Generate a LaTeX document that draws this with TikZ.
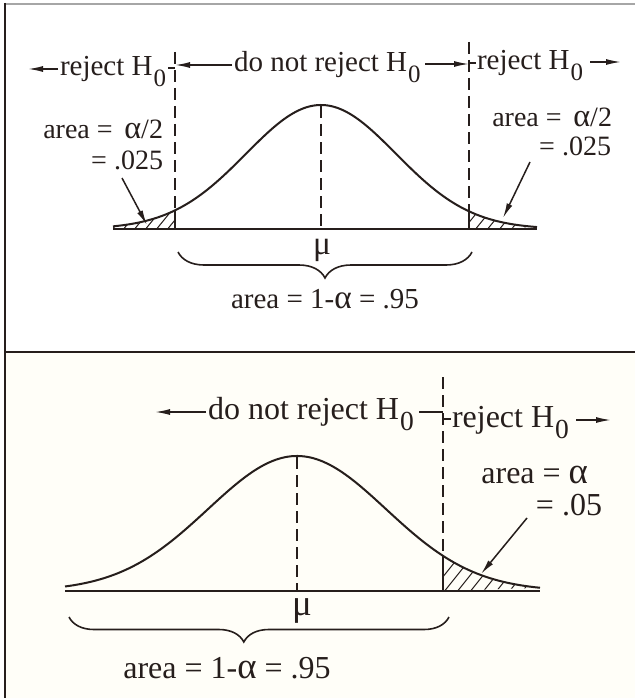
\documentclass[tikz,border=0pt]{standalone}
\usepackage{fontspec}
\usepackage{graphicx}
\setmainfont{Liberation Serif}
\usetikzlibrary{arrows.meta,decorations.pathreplacing}
\definecolor{ink}{RGB}{38,30,28}
\definecolor{cream}{RGB}{255,254,248}
\newcommand\Hz{H\kern1pt\raisebox{-0.36em}{\scalebox{0.86}{0}}}
\newcommand\alp{\scalebox{1.15}{α}}
\begin{document}
\begin{tikzpicture}[x=1pt,y=-1pt,
  every node/.style={inner sep=0pt, outer sep=0pt, text=ink},
  fa/.style={font=\fontsize{29}{32}\selectfont},
  fal/.style={font=\fontsize{28}{30}\selectfont},
  fb/.style={font=\fontsize{32}{35}\selectfont},
  curve/.style={draw=ink, line width=2pt},
  axis/.style={draw=ink, line width=2.4pt},
  guide/.style={draw=ink, line width=1.2pt, dash pattern=on 12pt off 6pt},
  hatch/.style={draw=ink, line width=1pt},
  solid edge/.style={draw=ink, line width=1.4pt},
  arr/.style={draw=ink, line width=1.5pt, -{Latex[length=15pt,width=6pt]}},
  tick/.style={draw=ink, line width=1.5pt},
  bracestyle/.style={draw=ink, line width=1.6pt, decorate},
]
\useasboundingbox (0,0) rectangle (635,698);
\fill[white] (0,0) rectangle (635,698);
\fill[cream] (6,353) rectangle (635,698);
% frame
\draw[draw=gray!70, line width=2pt] (5,4) -- (635,4);
\draw[draw=ink, line width=2pt] (5,3) -- (5,698);
\draw[draw=ink, line width=2pt] (5,352) -- (635,352);

% ================= TOP PANEL =================
% hatched tails
\begin{scope}
  \clip plot[domain=113:175, samples=40] (\x, {229-124*exp(-((\x-321)/75)*((\x-321)/75)/2)}) -- (175,229) -- (113,229) -- cycle;
  \foreach \h in {100,111,...,178} \draw[hatch] (\h,231) -- ++(22,-27);
\end{scope}
\begin{scope}
  \clip (469,229) -- plot[domain=469:537, samples=40] (\x, {229-124*exp(-((\x-321)/75)*((\x-321)/75)/2)}) -- cycle;
  \foreach \h in {462,474,...,540} \draw[hatch] (\h,231) -- ++(22,-27);
\end{scope}
% curve and axis
\draw[curve] plot[domain=113:537, samples=150, smooth] (\x, {229-124*exp(-((\x-321)/75)*((\x-321)/75)/2)});
\draw[axis] (113,229) -- (537,229);
% guides
\draw[guide] (175,52) -- (175,229);
\draw[guide] (469,42) -- (469,229);
\draw[guide] (321,106) -- (321,229);
\draw[solid edge] (175,211) -- (175,229);
\draw[solid edge] (469,211) -- (469,229);

% header
\node[fa, anchor=base west] (trl) at (60,76) {reject \Hz};
\coordinate (trlA) at (58,69); \coordinate (trlB) at (28,69);
\draw[arr] (trlA) -- (trlB);
\coordinate (trlC) at (168,68); \coordinate (trlD) at (175,68);
\draw[tick] (trlC) -- (trlD);

\node[fa, anchor=base west] (tdn) at (234,72) {do not reject \Hz};
\coordinate (tdnA) at (232,65); \coordinate (tdnB) at (175,65);
\draw[arr] (tdnA) -- (tdnB);
\coordinate (tdnC) at (425,64); \coordinate (tdnD) at (469,64);
\draw[arr] (tdnC) -- (tdnD);

\node[fa, anchor=base west] (trr) at (477,70) {reject \Hz};
\coordinate (trrC) at (469,63); \coordinate (trrD) at (476,63);
\draw[tick] (trrC) -- (trrD);
\coordinate (trrA) at (590,62); \coordinate (trrB) at (621,62);
\draw[arr] (trrA) -- (trrB);

% area labels
\node[fal, anchor=base east] (tla1) at (163,139) {area = \,\alp/2};
\node[fal, anchor=base east] (tla2) at (163,169) {= .025};
\coordinate (tlaP) at (122,178); \coordinate (tlaQ) at (147,225);
\draw[arr] (tlaP) -- (tlaQ);

\node[fal, anchor=base east] (tra1) at (612,126) {area = \,\alp/2};
\node[fal, anchor=base east] (tra2) at (611,155) {= .025};
\coordinate (traP) at (530,162); \coordinate (traQ) at (503,218);
\draw[arr] (traP) -- (traQ);

% mu, brace, bottom text
\node[fa, anchor=base] (tmu) at (322,254) {\scalebox{1.15}{μ}};
\coordinate (tbrA) at (178,252); \coordinate (tbrB) at (472,252);
\draw[bracestyle, decoration={brace, mirror, amplitude=26pt}] (tbrA) -- (tbrB);
\node[fa, anchor=base] (tarea) at (325,308) {area = 1-\alp\ = .95};

% ================= BOTTOM PANEL =================
\begin{scope}
  \clip (443,591) -- plot[domain=443:540, samples=40] (\x, {591-135*exp(-((\x-297)/89)*((\x-297)/89)/2)}) -- cycle;
  \foreach \h in {430,443,...,545} \draw[hatch] (\h,593) -- ++(24,-30);
\end{scope}
\draw[curve] plot[domain=65:540, samples=150, smooth] (\x, {591-135*exp(-((\x-297)/89)*((\x-297)/89)/2)});
\draw[axis] (65,591) -- (540,591);
\draw[guide] (443,377) -- (443,591);
\draw[guide] (297,457) -- (297,591);
\draw[solid edge] (443,556) -- (443,591);

% header
\node[fb, anchor=base west] (bdn) at (208,419) {do not reject \Hz};
\coordinate (bdnA) at (206,412); \coordinate (bdnB) at (155,412);
\draw[arr] (bdnA) -- (bdnB);
\coordinate (bdnC) at (419,412); \coordinate (bdnD) at (443,412);
\draw[tick] (bdnC) -- (bdnD);

\node[fb, anchor=base west] (brr) at (452,427) {reject \Hz};
\coordinate (brrC) at (443,419); \coordinate (brrD) at (451,419);
\draw[tick] (brrC) -- (brrD);
\coordinate (brrA) at (576,420); \coordinate (brrB) at (611,420);
\draw[arr] (brrA) -- (brrB);

% area label
\node[fb, anchor=base east] (bra1) at (588,483) {area = \alp};
\node[fb, anchor=base east] (bra2) at (602,515) {= .05};
\coordinate (braP) at (527,518); \coordinate (braQ) at (481,574);
\draw[arr] (braP) -- (braQ);

% mu, brace, text
\node[fb, anchor=base] (bmu) at (302,615) {\scalebox{1.15}{μ}};
\coordinate (bbrA) at (69,617); \coordinate (bbrB) at (449,617);
\draw[bracestyle, decoration={brace, mirror, amplitude=25pt, aspect=0.46}] (bbrA) -- (bbrB);
\node[fb, anchor=base] (barea) at (227,678) {area = 1-\alp\ = .95};
\end{tikzpicture}
\end{document}
